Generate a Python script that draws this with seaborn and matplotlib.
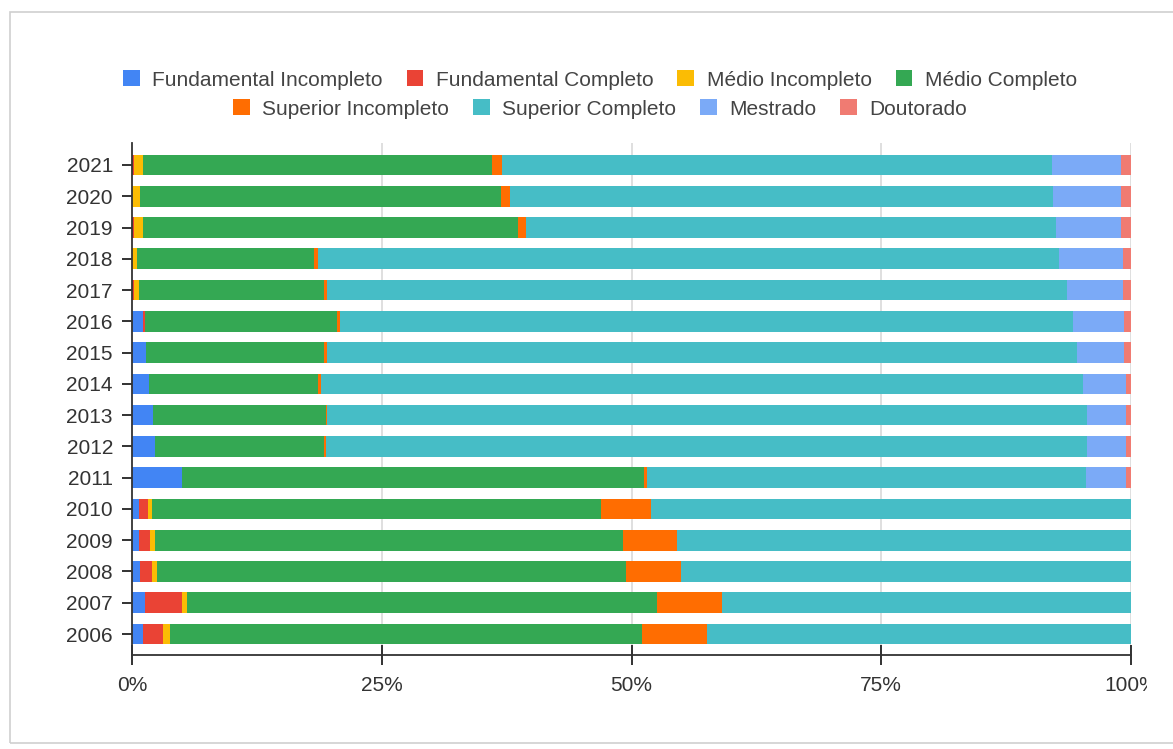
import numpy as np
import pandas as pd
import matplotlib
matplotlib.use("Agg")
import matplotlib.pyplot as plt
import seaborn as sns
from matplotlib.patches import Patch, Rectangle
from matplotlib.transforms import Bbox

# Escolaridade por ano (% do total de cada ano)
anos = ["2021", "2020", "2019", "2018", "2017", "2016", "2015", "2014",
        "2013", "2012", "2011", "2010", "2009", "2008", "2007", "2006"]
fundamental_incompleto = [0, 0, 0, 0, 0, 1.10, 1.37, 1.70, 2.14, 2.34, 4.98, 0.70, 0.70, 0.84, 1.27, 1.14]
fundamental_completo = [0.24, 0, 0.24, 0, 0.24, 0.17, 0, 0, 0, 0, 0, 0.87, 1.14, 1.16, 3.74, 1.93]
medio_incompleto = [0.86, 0.84, 0.86, 0.50, 0.46, 0, 0, 0, 0, 0, 0, 0.43, 0.46, 0.47, 0.47, 0.74]
medio_completo = [34.90, 36.06, 37.56, 17.70, 18.53, 19.30, 17.86, 16.93, 17.23, 16.89, 46.27, 44.92, 46.85, 46.98, 47.10, 47.27]
superior_incompleto = [1.03, 0.90, 0.74, 0.43, 0.30, 0.30, 0.30, 0.30, 0.13, 0.14, 0.33, 5.06, 5.41, 5.54, 6.45, 6.45]
superior_completo = [55.06, 54.42, 53.12, 74.19, 74.02, 73.28, 75.06, 76.22, 76.12, 76.25, 43.87, 48.02, 45.44, 45.01, 40.97, 42.47]
mestrado = [6.91, 6.81, 6.48, 6.34, 5.61, 5.15, 4.71, 4.35, 3.88, 3.88, 4.05, 0, 0, 0, 0, 0]
doutorado = [1.00, 0.97, 1.00, 0.84, 0.84, 0.70, 0.70, 0.50, 0.50, 0.50, 0.50, 0, 0, 0, 0, 0]

niveis = ["Fundamental Incompleto", "Fundamental Completo", "Médio Incompleto",
          "Médio Completo", "Superior Incompleto", "Superior Completo",
          "Mestrado", "Doutorado"]
cores = ["#4285F4", "#EA4335", "#FBBC04", "#34A853",
         "#FF6D01", "#46BDC6", "#7BAAF7", "#F07B72"]
eixo_ticks = [0, 25, 50, 75, 100]
eixo_labels = ["0%", "25%", "50%", "75%", "100%"]

series = [fundamental_incompleto, fundamental_completo, medio_incompleto,
          medio_completo, superior_incompleto, superior_completo,
          mestrado, doutorado]
df = pd.DataFrame(dict(zip(niveis, series)), index=anos)
df = df.div(df.sum(axis=1), axis=0) * 100  # empilhamento em 100%
acum = df.cumsum(axis=1)

sns.set_theme(style="white")
plt.rcParams["font.family"] = ["Liberation Sans", "DejaVu Sans"]

W, H = 1173, 749
fig = plt.figure(figsize=(W / 100, H / 100), dpi=100)
fig.patch.set_facecolor("white")

# moldura do cartão
fig.add_artist(Rectangle((10 / W, 6 / H), 1200 / W, 731 / H, transform=fig.transFigure,
                         facecolor="none", edgecolor="#cfcfcf", lw=1.2))

ax = fig.add_axes([132 / W, 94 / H, 999 / W, 512 / H])

# barras acumuladas, da última camada para a primeira
for nivel, cor in reversed(list(zip(niveis, cores))):
    d = pd.DataFrame({"ano": anos, "valor": acum[nivel].values})
    sns.barplot(data=d, y="ano", x="valor", order=anos, orient="h",
                color=cor, saturation=1, width=0.66, linewidth=0,
                edgecolor="none", ax=ax, zorder=2)

ax.set_xlim(0, 100)
ax.set_ylim(15 + 21 / 31.27, -22 / 31.27)
ax.set_xlabel("")
ax.set_ylabel("")
ax.set_xticks(eixo_ticks)
ax.set_xticklabels(eixo_labels)

ax.grid(False)
for x in eixo_ticks[1:]:
    ax.axvline(x, color="#d9d9d9", lw=1.2, zorder=0)

for s in ["top", "right"]:
    ax.spines[s].set_visible(False)
for s in ["left", "bottom"]:
    ax.spines[s].set_visible(True)
    ax.spines[s].set_color("#333333")
    ax.spines[s].set_linewidth(1.3)
    ax.spines[s].set_zorder(4)

ax.tick_params(axis="y", direction="inout", length=14.4, width=1.3, color="#222222",
               labelsize=15, labelcolor="#333333", pad=6.5, left=True)
ax.tick_params(axis="x", direction="inout", length=14, width=1.3, color="#222222",
               labelsize=15, labelcolor="#333333", pad=8, bottom=True)
for t in ax.yaxis.get_major_ticks() + ax.xaxis.get_major_ticks():
    t.tick1line.set_zorder(5)

# legenda em duas linhas centralizadas
handles = [Patch(facecolor=c, edgecolor="none") for c in cores]
leg_kw = dict(loc="center", ncol=4, frameon=False, fontsize=15,
              handlelength=0.8, handleheight=0.8, handletextpad=0.6,
              columnspacing=1.15, borderpad=0, labelcolor="#444444")
fig.legend(handles[:4], niveis[:4], bbox_to_anchor=(600 / W, 1 - 80 / H), **leg_kw)
fig.legend(handles[4:], niveis[4:], bbox_to_anchor=(600 / W, 1 - 109 / H), **leg_kw)

fig.canvas.draw()
for lbl in ax.get_xticklabels():
    lbl.set_clip_box(Bbox.from_extents(0, 0, 1147, H))
    lbl.set_clip_on(True)

fig.savefig("out.png", dpi=100, facecolor="white")
